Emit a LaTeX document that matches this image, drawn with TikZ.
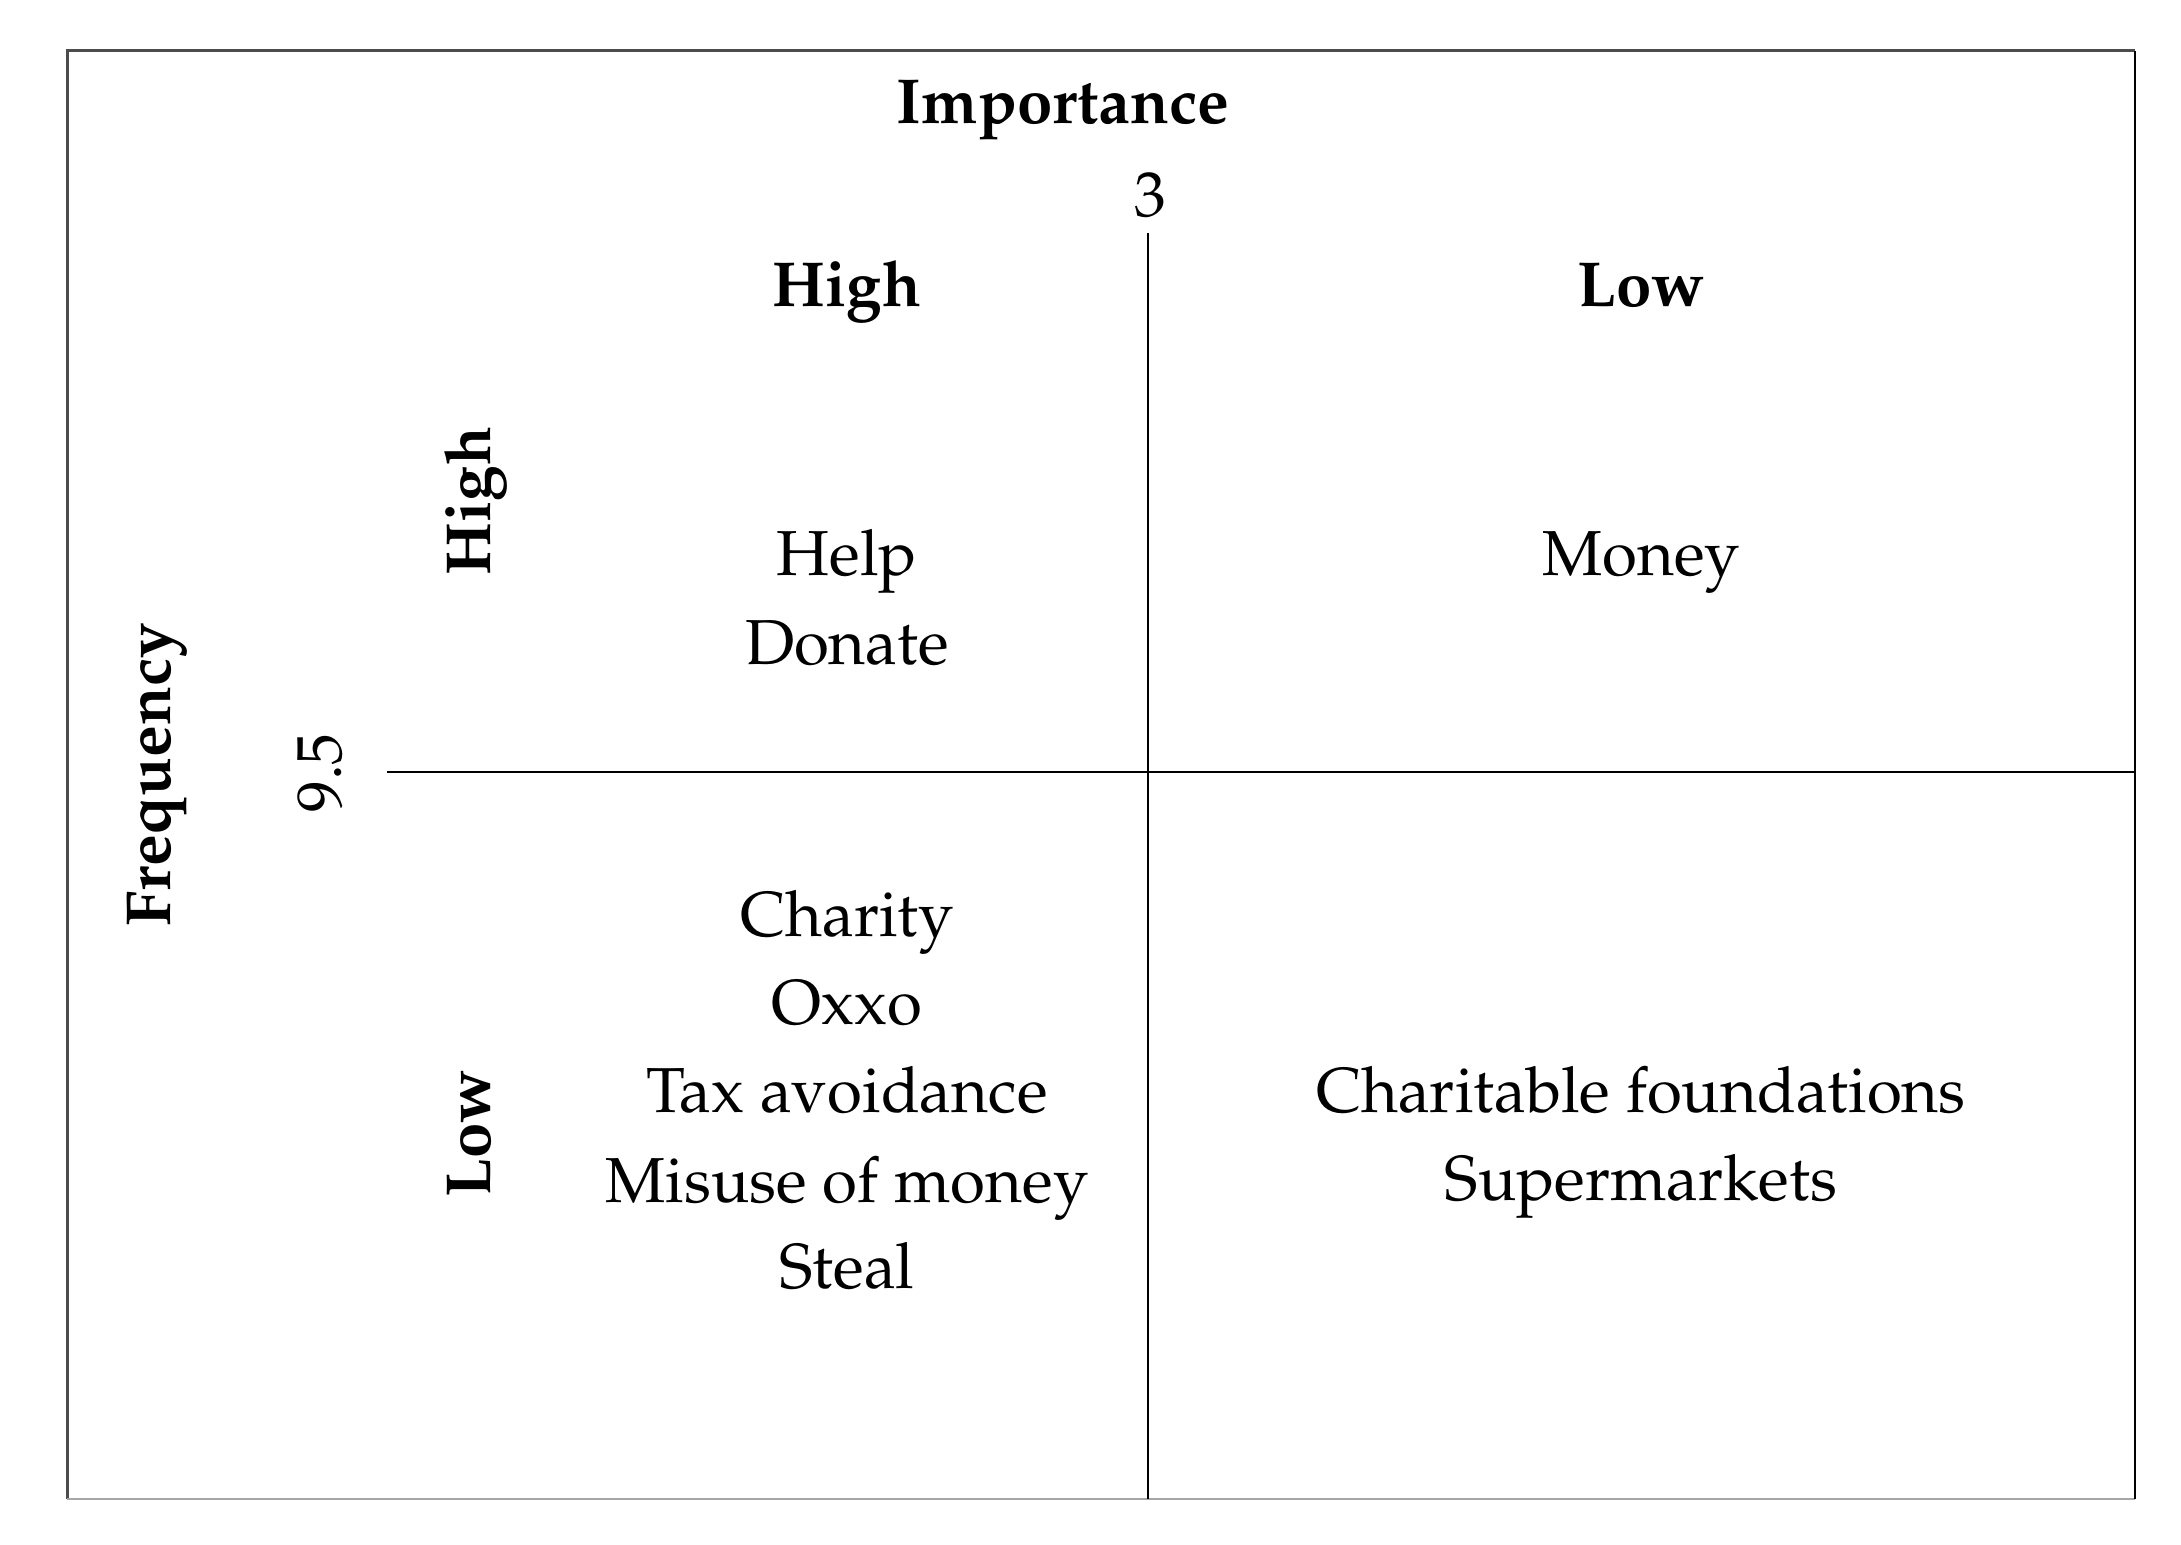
\documentclass[tikz,border=0pt]{standalone}
\usepackage[T1]{fontenc}
\renewcommand{\rmdefault}{ppl}
\begin{document}
\begin{tikzpicture}[x=0.5pt,y=-0.5pt,
  lbl/.style={anchor=base,inner sep=0pt,font=\fontsize{31.8}{44}\selectfont},
  blbl/.style={anchor=base,inner sep=0pt,font=\fontsize{31.8}{44}\selectfont\bfseries},
  axisline/.style={line width=1pt,black},
  vlbl/.style={rotate=90}]
\useasboundingbox (0,0) rectangle (2181,1545);
\fill[white] (0,0) rectangle (2181,1545);
% frame
\coordinate (tl) at (67,51);
\coordinate (tr) at (2135,51);
\coordinate (br) at (2135,1499);
\coordinate (bl) at (67,1499);
\draw[line width=1.5pt,black!70] (bl) -- (tl) -- (tr);
\draw[line width=1pt,black!35] (bl) -- (br);
\draw[line width=1pt,black] (tr) -- (br);
% axes
\coordinate (vtop) at (1148,233);
\coordinate (vbot) at (1148,1499);
\coordinate (hleft) at (387,772);
\coordinate (hright) at (2135,772);
\draw[axisline] (vtop) -- (vbot);
\draw[axisline] (hleft) -- (hright);
% headings
\node[blbl] (imp) at (1063,124) {Importance};
\node[lbl] (three) at (1150,217) {3};
\node[blbl] (hightop) at (847,307) {High};
\node[blbl] (lowtop) at (1641,307) {Low};
\node[blbl,vlbl] (freq) at (170,775) {Frequency};
\node[lbl,vlbl] (ninefive) at (341,773) {9.5};
\node[blbl,vlbl] (highleft) at (490,501) {High};
\node[blbl,vlbl] (lowleft) at (490,1134) {Low};
% quadrant contents
\node[lbl] (help) at (847,576) {Help};
\node[lbl] (donate) at (847,665) {Donate};
\node[lbl] (money) at (1641,576) {Money};
\node[lbl] (charity) at (847,936) {Charity};
\node[lbl] (oxxo) at (847,1024) {Oxxo};
\node[lbl] (tax) at (847,1112) {Tax avoidance};
\node[lbl] (misuse) at (847,1202) {Misuse of money};
\node[lbl] (steal) at (847,1288) {Steal};
\node[lbl] (charfound) at (1641,1112) {Charitable foundations};
\node[lbl] (super) at (1641,1200) {Supermarkets};
\end{tikzpicture}
\end{document}
